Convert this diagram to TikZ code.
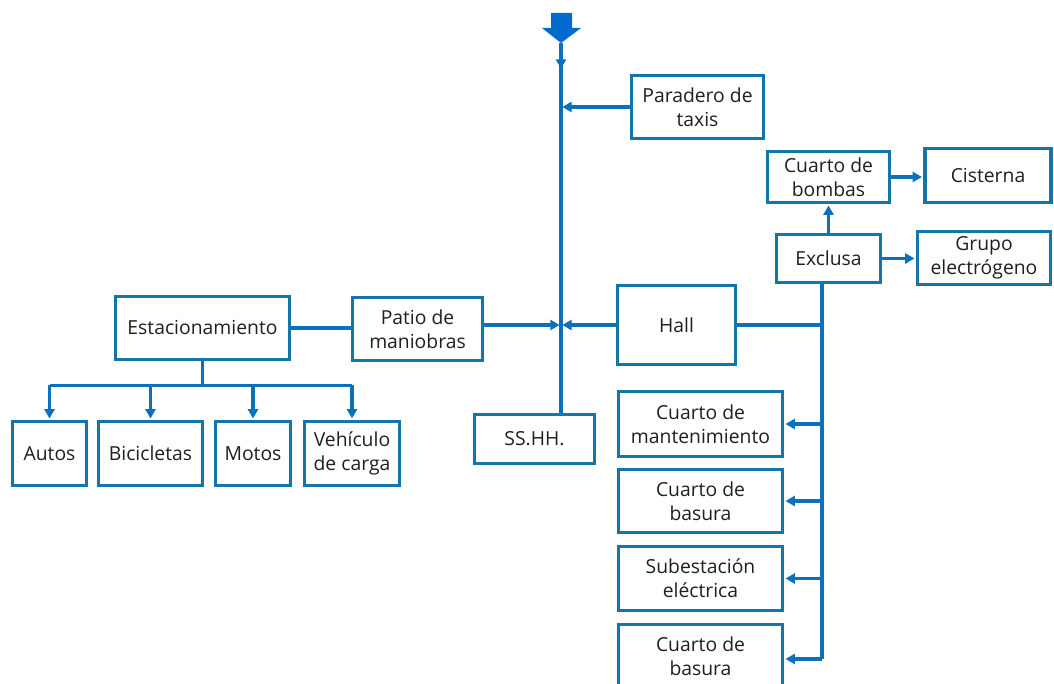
\documentclass[tikz,border=0pt]{standalone}
\usepackage{fontspec}
\setmainfont{Open Sans}
\usepackage{tikz}
\usetikzlibrary{arrows.meta, positioning, calc}
\definecolor{boxline}{RGB}{20,118,168}
\definecolor{flow}{RGB}{12,112,186}
\definecolor{entry}{RGB}{0,106,206}

\tikzset{
  box/.style={draw=boxline, line width=2.5pt, align=center, inner sep=2pt,
              text=black!88, font=\fontsize{14.5}{18}\selectfont},
  dims/.style 2 args={minimum width=#1*0.75pt, minimum height=#2*0.75pt},
  link/.style={draw=flow, line width=2.4pt},
  arr/.style={link, -{Triangle[length=7pt, width=7.5pt]}, shorten >=1pt},
}

\begin{document}
\begin{tikzpicture}[x=0.75pt, y=-0.75pt]
  \clip (0,0) rectangle (1054,684);

  \fill[entry] (551,13) -- (572,13) -- (572,28) -- (581,28) -- (561,43)
    -- (542,28) -- (551,28) -- cycle;
  \coordinate (top) at (561,43);

  \node[box, dims={132}{63}] (taxis) at (697.5,107) {Paradero de\\taxis};
  \node[box, dims={122}{51}] (bombas) at (828.5,177) {Cuarto de\\bombas};
  \node[box, dims={126}{54}] (cisterna) at (988,175.5) {Cisterna};
  \node[box, dims={104}{48}] (exclusa) at (828.5,258.5) {Exclusa};
  \node[box, dims={133}{53}] (grupo) at (984,258) {Grupo\\electrógeno};
  \node[box, dims={118}{79}] (hall) at (676.5,325) {Hall};
  \node[box, dims={164}{65}] (mant) at (700.5,424) {Cuarto de\\mantenimiento};
  \node[box, dims={164}{63}] (basura) at (700.5,501) {Cuarto de\\basura};
  \node[box, dims={164}{64}] (subest) at (700.5,578.5) {Subestación\\eléctrica};
  \node[box, dims={164}{63}] (basurab) at (700.5,656) {Cuarto de\\basura};
  \node[box, dims={130}{63}] (patio) at (417.5,329) {Patio de\\maniobras};
  \node[box, dims={174}{63}] (estac) at (202.5,328) {Estacionamiento};
  \node[box, dims={120}{49}] (sshh) at (534.5,439) {SS.HH.};
  \node[box, dims={74}{64}] (autos) at (49.5,453.5) {Autos};
  \node[box, dims={104}{64}] (bici) at (150.5,453.5) {Bicicletas};
  \node[box, dims={75}{64}] (motos) at (253,453.5) {Motos};
  \node[box, dims={95}{64}] (vehic) at (352,453.5) {Vehículo\\de carga};

  \draw[arr] (top) -- ++(0,27);
  \draw[link] (top) -- (sshh.north -| top);
  \draw[arr] (taxis.west) -- (taxis.west -| top);
  \draw[arr] (hall.west) -- (hall.west -| top);
  \draw[arr] (patio.east |- hall.west) -- (hall.west -| top);
  \draw[link] (estac.east) -- (estac.east -| patio.west);

  \draw[link] (estac.south) -- ++(0,24) coordinate (split);
  \draw[link] (split -| autos) -- (split -| vehic);
  \foreach \n in {autos,bici,motos,vehic}
    \draw[arr] (split -| \n) -- (\n.north);

  \draw[arr] (exclusa.north) -- (bombas.south);
  \draw[arr] (bombas.east) -- (bombas.east -| cisterna.west);
  \draw[arr] (exclusa.east) -- (exclusa.east -| grupo.west);

  \coordinate (bus) at (822,659);
  \draw[link] (exclusa.south -| bus) -- (bus);
  \draw[link] (hall.east) -- (hall.east -| bus);
  \foreach \n in {mant,basura,subest}
    \draw[arr] (\n.east -| bus) -- (\n.east);
  \draw[arr] (bus) -- (bus -| basurab.east);
\end{tikzpicture}
\end{document}
